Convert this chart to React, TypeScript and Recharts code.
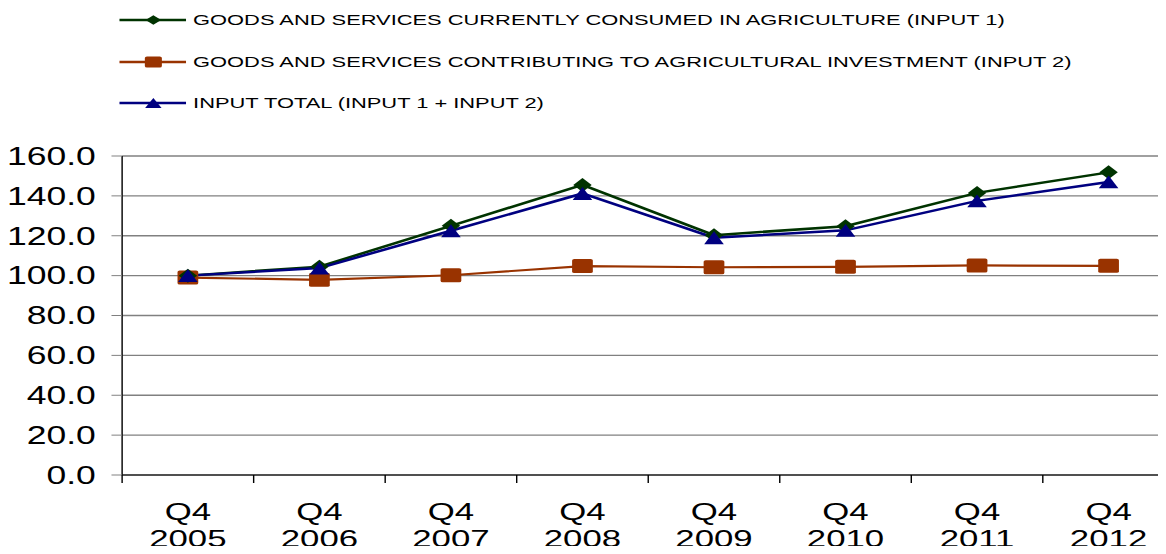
import React from "react";
import { LineChart, Line, XAxis, YAxis, CartesianGrid } from "recharts";

// the reference is stretched sideways, so the chart is drawn narrow and scaled
const STRETCH = 1.42;
const FONT = "'Liberation Sans', Arial, sans-serif";

const periods = [
  "Q4 2005",
  "Q4 2006",
  "Q4 2007",
  "Q4 2008",
  "Q4 2009",
  "Q4 2010",
  "Q4 2011",
  "Q4 2012",
];
const input1 = [100, 104.5, 125, 145.5, 120.3, 124.8, 141.5, 151.8];
const input2 = [99, 97.9, 100.2, 104.8, 104.2, 104.4, 105.1, 104.9];
const inputTotal = [100, 103.8, 122.5, 141.2, 119, 122.7, 137.5, 147];
const yTicks = [0, 20, 40, 60, 80, 100, 120, 140, 160];

const names = {
  input1: "GOODS AND SERVICES CURRENTLY CONSUMED IN AGRICULTURE (INPUT 1)",
  input2: "GOODS AND SERVICES CONTRIBUTING TO AGRICULTURAL INVESTMENT (INPUT 2)",
  total: "INPUT TOTAL (INPUT 1 + INPUT 2)",
};

const GREEN = "#003300";
const ORANGE = "#993300";
const BLUE = "#000080";

const data = periods.map((p, i) => ({
  period: p,
  input1: input1[i],
  input2: input2[i],
  total: inputTotal[i],
}));

const Diamond = ({ cx, cy, w = 6.5, h = 7, fill = GREEN }: any) => {
  if (cx == null || cy == null) return null;
  return (
    <path
      d={`M${cx},${cy - h} L${cx + w},${cy} L${cx},${cy + h} L${cx - w},${cy} Z`}
      fill={fill}
    />
  );
};

const Square = ({ cx, cy, w = 7.3, h = 7, fill = ORANGE }: any) => {
  if (cx == null || cy == null) return null;
  return (
    <rect x={cx - w} y={cy - h} width={w * 2} height={h * 2} rx={1.5} fill={fill} />
  );
};

const Triangle = ({ cx, cy, w = 6.9, h = 6.4, fill = BLUE }: any) => {
  if (cx == null || cy == null) return null;
  return (
    <path
      d={`M${cx},${cy - h} L${cx + w},${cy + h} L${cx - w},${cy + h} Z`}
      fill={fill}
    />
  );
};

const XTick = (props: any) => {
  const { x, y, payload, index, visibleTicksCount, width } = props;
  const half =
    payload.offset != null && payload.offset > 0
      ? payload.offset
      : width / visibleTicksCount / 2;
  const [q, year] = String(payload.value).split(" ");
  return (
    <g>
      <line x1={x - half} x2={x - half} y1={y - 8} y2={y} stroke="#000" />
      {index === visibleTicksCount - 1 && (
        <line x1={x + half} x2={x + half} y1={y - 8} y2={y} stroke="#000" />
      )}
      <text textAnchor="middle" fontSize={24.5} fontFamily={FONT} fill="#000">
        <tspan x={x} y={y + 37}>
          {q}
        </tspan>
        <tspan x={x} y={y + 64}>
          {year}
        </tspan>
      </text>
    </g>
  );
};

const legendRows = [
  { name: names.input1, color: GREEN, Marker: Diamond, mw: 5.5, mh: 4.8 },
  { name: names.input2, color: ORANGE, Marker: Square, mw: 6, mh: 5.5 },
  { name: names.total, color: BLUE, Marker: Triangle, mw: 5.8, mh: 5 },
];

const Legend = () => (
  <div style={{ position: "absolute", left: 0, top: 0 }}>
    {legendRows.map((r, i) => (
      <div
        key={r.name}
        style={{
          position: "absolute",
          left: 84,
          top: 20 + i * 41.5 - 10,
          height: 20,
          display: "flex",
          alignItems: "center",
          whiteSpace: "nowrap",
        }}
      >
        <svg width={48} height={20} style={{ display: "block" }}>
          <line x1={0} x2={47} y1={10} y2={10} stroke={r.color} strokeWidth={2.5} />
          <r.Marker cx={24} cy={10} w={r.mw} h={r.mh} fill={r.color} />
        </svg>
        <span
          style={{
            marginLeft: 4,
            fontFamily: FONT,
            fontSize: 15.4,
            color: "#000",
          }}
        >
          {r.name}
        </span>
      </div>
    ))}
  </div>
);

export default function App() {
  return (
    <div
      style={{
        margin: -8,
        width: 1166,
        height: 554,
        overflow: "hidden",
        position: "relative",
        background: "#fff",
      }}
    >
      <div
        style={{
          position: "relative",
          width: 830,
          height: 554,
          transform: `scaleX(${STRETCH})`,
          transformOrigin: "0 0",
        }}
      >
        <Legend />
        <LineChart
          width={830}
          height={554}
          data={data}
          margin={{ top: 156, right: 3, bottom: 0, left: 0 }}
        >
          <CartesianGrid vertical={false} stroke="#808080" strokeWidth={1.3} />
          <XAxis
            dataKey="period"
            scale="band"
            height={79}
            tickLine={false}
            tickSize={8}
            tickMargin={0}
            axisLine={{ stroke: "#000" }}
            tick={<XTick />}
            interval={0}
          />
          <YAxis
            width={86}
            domain={[0, 160]}
            ticks={yTicks}
            tickFormatter={(v: number) => v.toFixed(1)}
            tickSize={7.5}
            tickMargin={11}
            tickLine={{ stroke: "#808080" }}
            axisLine={{ stroke: "#000" }}
            tick={{ fontSize: 25, fontFamily: FONT, fill: "#000" }}
          />
          <Line
            dataKey="input2"
            name={names.input2}
            stroke={ORANGE}
            strokeWidth={2.2}
            dot={(p: any) => <Square key={p.index} cx={p.cx} cy={p.cy} />}
            isAnimationActive={false}
          />
          <Line
            dataKey="input1"
            name={names.input1}
            stroke={GREEN}
            strokeWidth={2.5}
            dot={(p: any) => <Diamond key={p.index} cx={p.cx} cy={p.cy} />}
            isAnimationActive={false}
          />
          <Line
            dataKey="total"
            name={names.total}
            stroke={BLUE}
            strokeWidth={2.5}
            dot={(p: any) => <Triangle key={p.index} cx={p.cx} cy={p.cy} />}
            isAnimationActive={false}
          />
        </LineChart>
      </div>
    </div>
  );
}
